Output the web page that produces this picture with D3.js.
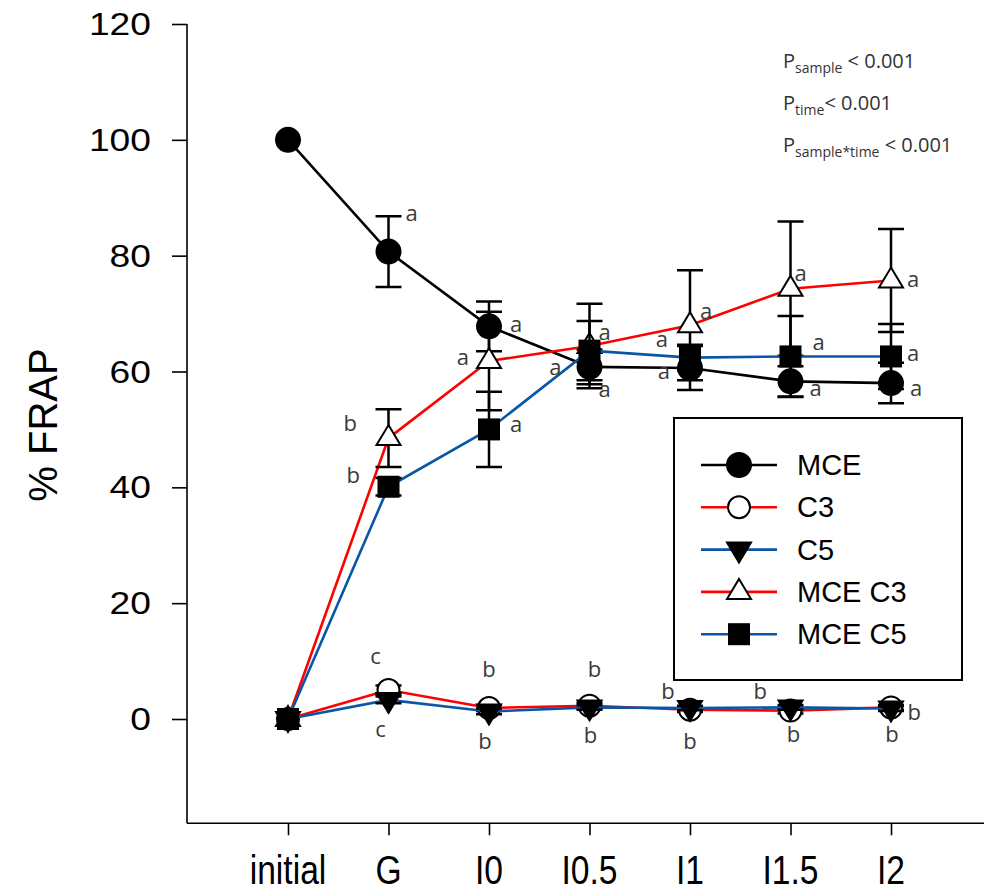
<!DOCTYPE html>
<html><head><meta charset="utf-8">
<script src="https://cdn.jsdelivr.net/npm/d3@7"></script>
<style>body{margin:0;background:#fff}svg{display:block}</style>
</head><body><svg id="c" width="984" height="892"></svg>
<script>
const categories = ["initial","G","I0","I0.5","I1","I1.5","I2"];
const yTicks = [0,20,40,60,80,100,120];
const mce     = [100, 80.7, 67.8, 60.8, 60.6, 58.3, 58.0];
const mceErr  = [0, 6.1, 4.3, 3.0, 3.8, 2.6, 3.5];
const c3      = [0, 5.0, 1.9, 2.3, 1.6, 1.45, 2.0];
const c3Err   = [0, 0.8, 0.5, 0.5, 0.4, 0.5, 0.4];
const c5      = [0, 3.3, 1.3, 2.0, 1.9, 2.0, 1.8];
const c5Err   = [0, 0.6, 0.5, 0.4, 0.4, 0.4, 0.4];
const mceC3   = [0, 48.5, 61.8, 64.4, 68.0, 74.3, 75.7];
const mceC3Err= [0, 5.0, 8.5, 7.3, 9.5, 11.6, 8.9];
const mceC5   = [0, 40.1, 50.0, 63.6, 62.4, 62.6, 62.6];
const mceC5Err= [0, 1.5, 6.5, 5.1, 2.2, 7.0, 5.6];
const seriesNames = ["MCE","C3","C5","MCE C3","MCE C5"];
// letter annotations: [category position, value, letter]
const letters = [
 [1.23,87.2,"a"],[2.27,68,"a"],[0.62,51,"b"],[0.65,42,"b"],[1.74,62.3,"a"],[2.27,50.8,"a"],
 [3.15,66.7,"a"],[2.66,60.6,"a"],[3.15,56.8,"a"],
 [4.16,70.3,"a"],[3.72,65.4,"a"],[3.74,60.0,"a"],
 [5.1,76.9,"a"],[5.28,64.9,"a"],[5.25,57,"a"],
 [6.22,75.8,"a"],[6.22,63,"a"],[6.25,57,"a"],
 [0.87,10.7,"c"],[0.92,-1.9,"c"],
 [2,8.5,"b"],[1.96,-4,"b"],[3.05,8.5,"b"],[3.01,-2.9,"b"],
 [3.78,4.7,"b"],[4,-4,"b"],[4.7,4.7,"b"],[5.03,-2.8,"b"],
 [6.23,1.0,"b"],[6.01,-2.8,"b"]
];
const pLabels = [["sample"],["time"],["sample*time"]];

const svg = d3.select("#c");
const x = d3.scaleLinear().domain([-1,7]).range([187.5,991.5]);
const y = d3.scaleLinear().domain([-18,120]).range([823.25,24]);

// axes
const yAxis = svg.append("g").attr("transform","translate(187,0)")
  .call(d3.axisLeft(y).tickValues(yTicks).tickSize(15).tickFormat(""));
yAxis.select(".domain").attr("d",`M0,${y(120)}V${y(-18)}`);
yAxis.selectAll("path,line").attr("stroke","#000").attr("stroke-width",1.6);
yTicks.forEach(t=>{
  svg.append("text").attr("transform",`translate(151,${y(t)+11}) scale(1.2,1)`)
    .attr("text-anchor","end").attr("font-family","Liberation Sans, Arial").attr("font-size",31)
    .text(t);
});
const xAxis = svg.append("g").attr("transform",`translate(0,${y(-18)})`)
  .call(d3.axisBottom(x).tickValues(d3.range(categories.length)).tickSize(12).tickFormat(""));
xAxis.select(".domain").attr("d",`M187,0H984`);
xAxis.selectAll("path,line").attr("stroke","#000").attr("stroke-width",1.6);
categories.forEach((c,i)=>{
  svg.append("text").attr("transform",`translate(${x(i)},884) scale(0.82,1)`)
    .attr("text-anchor","middle").attr("font-family","Liberation Sans, Arial").attr("font-size",41)
    .text(c);
});
svg.append("text").attr("transform",`translate(57,${425}) rotate(-90)`)
  .attr("text-anchor","middle").attr("font-family","Liberation Sans, Arial").attr("font-size",40)
  .text("% FRAP");

// symbols
function drawSym(g, type, cx, cy){
  if(type==="circleF"||type==="circleO"){
    g.append("circle").attr("cx",cx).attr("cy",cy).attr("r",type==="circleF"?12:11)
     .attr("fill",type==="circleF"?"#000":"#fff").attr("stroke","#000").attr("stroke-width",2);
  } else if(type==="triUp"){
    g.append("path").attr("d",`M${cx},${cy-13}L${cx+12},${cy+7}L${cx-12},${cy+7}Z`)
     .attr("fill","#fff").attr("stroke","#000").attr("stroke-width",2);
  } else if(type==="triDown"){
    g.append("path").attr("d",`M${cx},${cy+13}L${cx+12},${cy-7}L${cx-12},${cy-7}Z`)
     .attr("fill","#000").attr("stroke","#000").attr("stroke-width",2);
  } else if(type==="square"){
    g.append("rect").attr("x",cx-11).attr("y",cy-11).attr("width",22).attr("height",22)
     .attr("fill","#000");
  }
}
const blue = "#0a56a6", red = "#ff0000";
const series = [
  {vals:mce, err:mceErr, color:"#000", sym:"circleF"},
  {vals:c3, err:c3Err, color:red, sym:"circleO"},
  {vals:c5, err:c5Err, color:blue, sym:"triDown"},
  {vals:mceC3, err:mceC3Err, color:red, sym:"triUp"},
  {vals:mceC5, err:mceC5Err, color:blue, sym:"square"}
];
const line = d3.line().x((d,i)=>x(i)).y(d=>y(d));
series.forEach(s=>{
  const g = svg.append("g");
  g.append("path").attr("d",line(s.vals)).attr("fill","none").attr("stroke",s.color).attr("stroke-width",2.6);
  s.vals.forEach((v,i)=>{
    const e = s.err[i]; if(!e) return;
    const cx = x(i);
    g.append("path").attr("d",`M${cx},${y(v+e)}V${y(v-e)}M${cx-13},${y(v+e)}H${cx+13}M${cx-13},${y(v-e)}H${cx+13}`)
     .attr("stroke","#000").attr("stroke-width",2.5).attr("fill","none");
  });
  s.vals.forEach((v,i)=>drawSym(g,s.sym,x(i),y(v)));
});

// letters
letters.forEach(([xi,v,t])=>{
  svg.append("text").attr("x",x(xi)).attr("y",y(v)+7).attr("text-anchor","middle")
   .attr("font-family","Open Sans, Noto Sans").attr("font-size",22).attr("fill","#3a3a3a").text(t);
});

// p values
pLabels.forEach((p,i)=>{
  const t = svg.append("text").attr("x",783).attr("y",68+i*42)
   .attr("font-family","Open Sans, Noto Sans").attr("font-size",20).attr("fill","#333");
  t.append("tspan").text("P");
  t.append("tspan").attr("font-size",14).attr("dy",5).text(p[0]);
  t.append("tspan").attr("dy",-5).text((i===1?"":" ")+"< 0.001");
});

// legend
const lg = svg.append("g");
lg.append("rect").attr("x",674).attr("y",418).attr("width",288).attr("height",262)
  .attr("fill","#fff").attr("stroke","#000").attr("stroke-width",2);
series.forEach((s,i)=>{
  const cy = 465 + i*42.3;
  lg.append("line").attr("x1",701).attr("x2",777).attr("y1",cy).attr("y2",cy)
    .attr("stroke",s.color).attr("stroke-width",2.6);
  drawSym(lg,s.sym,739,cy);
  lg.append("text").attr("x",797).attr("y",cy+10).attr("font-family","Liberation Sans, Arial")
    .attr("font-size",29).text(seriesNames[i]);
});
</script></body></html>
